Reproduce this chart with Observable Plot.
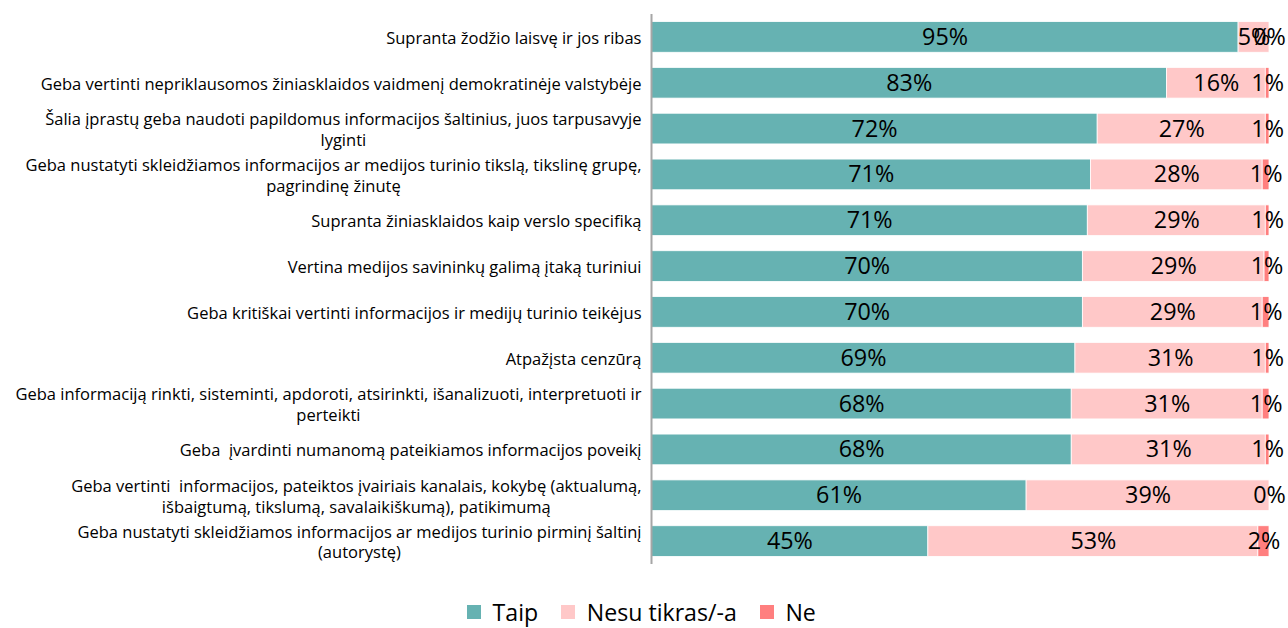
<!DOCTYPE html>
<html>
<head>
<meta charset="utf-8">
<script src="https://cdn.jsdelivr.net/npm/d3@7"></script>
<script src="https://cdn.jsdelivr.net/npm/@observablehq/plot@0.6"></script>
<style>
  html, body { margin: 0; padding: 0; background: #fff; }
  #chart { width: 1288px; height: 628px; overflow: hidden; }
  #legend { display: flex; justify-content: center; padding-top: 4px; padding-left: 18px; line-height: 1.1; }
  #legend * { line-height: 1.1; }
</style>
</head>
<body>
<div id="chart"></div>
<script>
const categories = [
  "Supranta žodžio laisvę ir jos ribas",
  "Geba vertinti nepriklausomos žiniasklaidos vaidmenį demokratinėje valstybėje",
  "Šalia įprastų geba naudoti papildomus informacijos šaltinius, juos tarpusavyje\nlyginti",
  "Geba nustatyti skleidžiamos informacijos ar medijos turinio tikslą, tikslinę grupę,\npagrindinę žinutę",
  "Supranta žiniasklaidos kaip verslo specifiką",
  "Vertina medijos savininkų galimą įtaką turiniui",
  "Geba kritiškai vertinti informacijos ir medijų turinio teikėjus",
  "Atpažįsta cenzūrą",
  "Geba informaciją rinkti, sisteminti, apdoroti, atsirinkti, išanalizuoti, interpretuoti ir\nperteikti",
  "Geba  įvardinti numanomą pateikiamos informacijos poveikį",
  "Geba vertinti  informacijos, pateiktos įvairiais kanalais, kokybę (aktualumą,\nišbaigtumą, tikslumą, savalaikiškumą), patikimumą",
  "Geba nustatyti skleidžiamos informacijos ar medijos turinio pirminį šaltinį\n(autorystę)"
];
const responses = ["Taip", "Nesu tikras/-a", "Ne"];
const taip  = [95.0, 83.4, 72.2, 71.1, 70.6, 69.8, 69.8, 68.6, 68.0, 68.0, 60.7, 44.8];
const nesu  = [ 5.0, 16.0, 27.2, 27.8, 28.8, 29.4, 29.1, 30.8, 30.9, 31.4, 39.3, 53.4];
const ne    = [ 0.0,  0.6,  0.6,  1.1,  0.6,  0.8,  1.1,  0.6,  1.1,  0.6,  0.0,  1.8];
const colors = ["#66b2b2", "#ffc8c8", "#ff7f7f"];

const series = [taip, nesu, ne];
const data = [];
categories.forEach((c, i) => {
  responses.forEach((r, j) => data.push({cat: c, resp: r, value: series[j][i]}));
});

const family = "'Open Sans'";
const ctx = document.createElement("canvas").getContext("2d");
function measure(text, size) { ctx.font = `${size}px ${family}`; return ctx.measureText(text).width; }
// calibrate sizes to the reference text widths
const labelFont = 15 * 601 / measure(categories[1], 15);
const valueFont = 20 * 46 / measure("95%", 20);
const legendFont = 20 * 150 / measure("Nesu tikras/-a", 20);
const blockWidth = c => Math.max(...c.split("\n").map(l => measure(l, labelFont)));

const labelMarks = categories.map(c =>
  Plot.text([c], {
    y: d => d, text: d => d, frameAnchor: "left", textAnchor: "middle",
    dx: -(10 + blockWidth(c) / 2), lineHeight: 20.5 / labelFont,
    fontSize: labelFont, fontFamily: family, fill: "#000"
  })
);

const chart = Plot.plot({
  width: 1288,
  height: 592,
  marginLeft: 651,
  marginRight: 19,
  marginTop: 14,
  marginBottom: 28,
  style: {background: "#fff"},
  x: {domain: [0, 100], axis: null},
  y: {domain: categories, axis: null, paddingInner: 0.33, paddingOuter: 0.165, round: false},
  color: {domain: responses, range: colors},
  marks: [
    Plot.barX(data, Plot.stackX({
      x: "value", y: "cat", fill: "resp", order: responses,
      stroke: "#fff", strokeWidth: 0.8
    })),
    Plot.text(data, Plot.stackX({
      x: "value", y: "cat", z: "resp", order: responses,
      text: d => Math.round(d.value) + "%",
      fontSize: valueFont, fontFamily: family, fill: "#000"
    })),
    Plot.ruleX([0], {stroke: "#a6a6a6", strokeWidth: 2}),
    ...labelMarks
  ]
});

const legend = Plot.legend({
  color: {domain: responses, range: colors},
  legend: "swatches",
  swatchSize: 14,
  style: {fontSize: legendFont + "px", fontFamily: family, color: "#000"}
});

const root = document.getElementById("chart");
root.appendChild(chart);
const lg = document.createElement("div");
lg.id = "legend";
lg.appendChild(legend);
root.appendChild(lg);
</script>
</body>
</html>
